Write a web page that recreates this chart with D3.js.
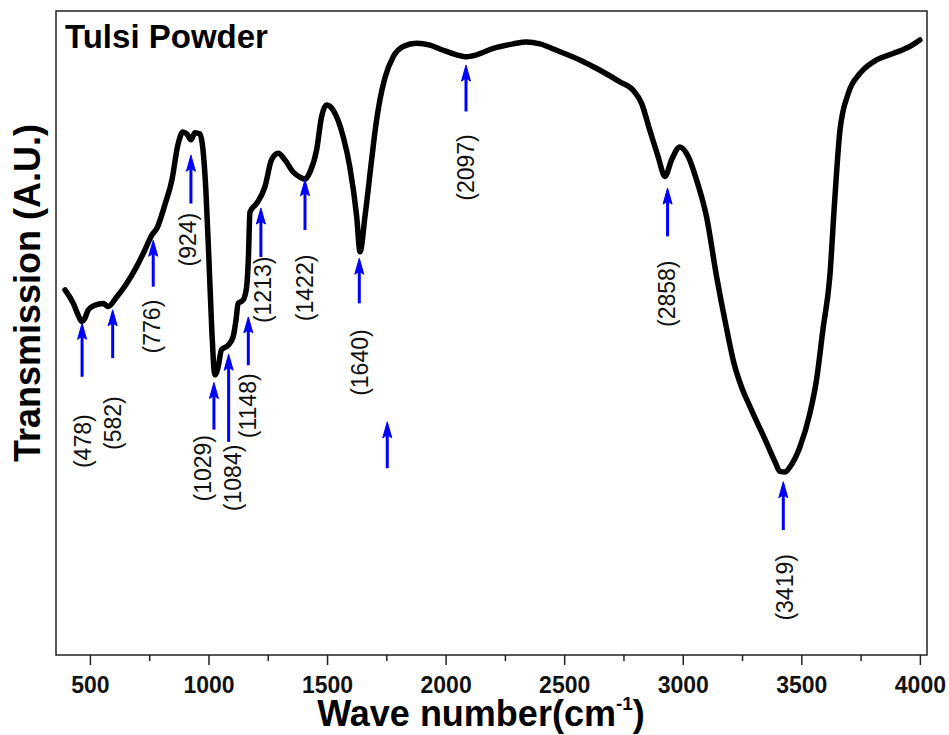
<!DOCTYPE html>
<html>
<head>
<meta charset="utf-8">
<script src="https://cdn.jsdelivr.net/npm/d3@7"></script>
<style>
  body { margin: 0; background: #fff; }
  text { font-family: "Liberation Sans", Arial, sans-serif; }
</style>
</head>
<body>
<div id="chart"></div>
<script>
// spectrum (wavenumber, transmission a.u.)
var waveNumbers = [395, 430, 449, 465, 479, 493, 521, 556, 577, 613, 655, 697, 732, 761, 783, 816, 846, 871, 892, 909,
  926, 943, 964, 977, 989, 1002, 1014, 1027, 1040, 1055, 1083, 1104, 1116, 1125, 1146, 1161, 1168, 1175, 1203, 1238,
  1266, 1294, 1322, 1357, 1386, 1407, 1428, 1456, 1477, 1498, 1526, 1568, 1596, 1625, 1639, 1660, 1688, 1706, 1723, 1744,
  1779, 1821, 1878, 1934, 1990, 2046, 2081, 2131, 2201, 2285, 2341, 2398, 2468, 2566, 2651, 2735, 2791, 2826, 2861, 2896, 2925,
  2953, 2988, 3023, 3058, 3100, 3143, 3182, 3216, 3249, 3283, 3354, 3389, 3410, 3431, 3452, 3494, 3536, 3564, 3591, 3620, 3641,
  3663, 3698, 3747, 3817, 3887, 3958, 4000];
var transmission = [56.7, 54.6, 52.9, 51.8, 52.3, 53.6, 54.3, 54.6, 54.1, 55.6, 57.7, 60.3, 62.9, 65.2, 66.3, 69.9, 73.8, 79.2, 81.2, 80.9,
  80.0, 81.1, 80.9, 78.4, 72.2, 61.3, 50.5, 43.5, 44.6, 47.4, 48.1, 49.4, 52.0, 54.6, 55.1, 57.2, 61.3, 68.8, 70.1, 72.7,
  76.9, 77.9, 76.9, 75.0, 74.2, 73.9, 75.0, 78.4, 83.6, 85.4, 84.6, 80.5, 75.8, 68.1, 62.6, 68.1, 76.9, 82.3, 86.2, 89.6,
  92.9, 94.5, 95.0, 94.7, 93.9, 93.2, 92.9, 93.2, 94.2, 94.9, 95.2, 94.9, 93.9, 92.4, 90.8, 89.0, 87.7, 85.7, 81.5, 77.4, 74.3,
  76.9, 78.9, 77.4, 73.8, 68.1, 58.7, 51.2, 45.3, 41.5, 38.6, 32.9, 30.0, 28.5, 28.4, 29.2, 32.3, 37.5, 42.7, 50.5, 58.7, 70.7,
  81.5, 87.2, 90.3, 92.4, 93.4, 94.5, 95.5];

// peak markers: where the arrow stands, its tip and tail, and the label
var arrowAt   = [467, 596, 767, 926, 1023, 1085, 1168, 1221, 1407, 1636, 1754, 2086, 2936, 3424];
var arrowTip  = [51.5, 53.6, 64.4, 77.6, 42.3, 46.7, 52.5, 69.4, 73.8, 61.6, 36.2, 91.6, 72.5, 26.9];
var arrowTail = [43.2, 46.1, 57.2, 70.1, 35.0, 33.1, 45.0, 61.8, 66.0, 54.6, 29.0, 84.4, 65.0, 19.4];
var peakLabels = ["(478)", "(582)", "(776)", "(924)", "(1029)", "(1084)", "(1148)", "(1213)", "(1422)", "(1640)", "(2097)", "(2858)", "(3419)"];
var labelX     = [472, 598, 760, 913, 978, 1102, 1168, 1230, 1407, 1639, 2086, 2933, 3431];
var labelY     = [33.2, 36.0, 51.0, 64.5, 29.0, 27.5, 38.7, 56.7, 57.0, 45.4, 75.7, 56.1, 10.5];

var majorTicks = [500, 1000, 1500, 2000, 2500, 3000, 3500, 4000];
var minorTicks = [750, 1250, 1750, 2250, 2750, 3250, 3750];

var width = 949, height = 735;
var plotLeft = 56, plotRight = 927, plotTop = 11, plotBottom = 655;

var svg = d3.select("#chart").append("svg")
    .attr("width", width)
    .attr("height", height);

var x = d3.scaleLinear().domain([357, 4030]).range([plotLeft, plotRight]);
var y = d3.scaleLinear().domain([0, 100]).range([plotBottom, plotTop]);

// bottom axis: major ticks with labels, minor ticks without
svg.append("g")
    .attr("transform", `translate(0,${plotBottom})`)
    .call(d3.axisBottom(x).tickValues(minorTicks).tickSize(6).tickSizeOuter(0).tickFormat(""))
    .call(g => g.select(".domain").remove())
    .selectAll("line").attr("stroke", "#222").attr("stroke-width", 1.5);

var xAxis = svg.append("g")
    .attr("transform", `translate(0,${plotBottom})`)
    .call(d3.axisBottom(x).tickValues(majorTicks).tickSize(10).tickSizeOuter(0).tickPadding(12).tickFormat(d3.format("d")));
xAxis.select(".domain").remove();
xAxis.selectAll("line").attr("stroke", "#222").attr("stroke-width", 1.5);
xAxis.selectAll("text")
    .attr("font-family", '"Liberation Sans", Arial, sans-serif')
    .attr("font-size", 23)
    .attr("font-weight", "bold")
    .attr("fill", "#111");

// frame
svg.append("rect")
    .attr("x", plotLeft).attr("y", plotTop)
    .attr("width", plotRight - plotLeft).attr("height", plotBottom - plotTop)
    .attr("fill", "none")
    .attr("stroke", "#222")
    .attr("stroke-width", 1.5);

// spectrum
var points = waveNumbers.map((w, i) => [w, transmission[i]]);
var line = d3.line()
    .x(d => x(d[0]))
    .y(d => y(d[1]))
    .curve(d3.curveMonotoneX);

svg.append("path")
    .datum(points)
    .attr("d", line)
    .attr("fill", "none")
    .attr("stroke", "#000")
    .attr("stroke-width", 5.5)
    .attr("stroke-linejoin", "round")
    .attr("stroke-linecap", "round");

// arrows
var arrows = svg.append("g").attr("fill", "#0000ff").attr("stroke", "#0000ff");
arrowAt.forEach(function (w, i) {
  var ax = x(w), tipY = y(arrowTip[i]), tailY = y(arrowTail[i]);
  arrows.append("line")
      .attr("x1", ax).attr("x2", ax)
      .attr("y1", tipY + 8).attr("y2", tailY)
      .attr("stroke-width", 3);
  arrows.append("path")
      .attr("d", `M${ax},${tipY} L${ax - 4.5},${tipY + 16} L${ax},${tipY + 13} L${ax + 4.5},${tipY + 16} Z`)
      .attr("stroke-width", 1);
});

// peak labels
svg.append("g")
  .selectAll("text")
  .data(peakLabels)
  .join("text")
    .attr("transform", (d, i) => `translate(${x(labelX[i])},${y(labelY[i])}) rotate(-90)`)
    .attr("text-anchor", "middle")
    .attr("dy", "0.35em")
    .attr("font-size", 23)
    .attr("fill", "#111")
    .text(d => d);

// titles
svg.append("text")
    .attr("x", 65).attr("y", 48)
    .attr("font-size", 33)
    .attr("font-weight", "bold")
    .text("Tulsi Powder");

var xTitle = svg.append("text")
    .attr("x", 481).attr("y", 726)
    .attr("text-anchor", "middle")
    .attr("font-size", 36)
    .attr("font-weight", "bold");
xTitle.append("tspan").text("Wave number(cm");
xTitle.append("tspan").attr("font-size", 19).attr("dy", -16).text("-1");
xTitle.append("tspan").attr("dy", 16).text(")");

svg.append("text")
    .attr("transform", "translate(40,293) rotate(-90)")
    .attr("text-anchor", "middle")
    .attr("font-size", 36)
    .attr("font-weight", "bold")
    .text("Transmission (A.U.)");
</script>
</body>
</html>
